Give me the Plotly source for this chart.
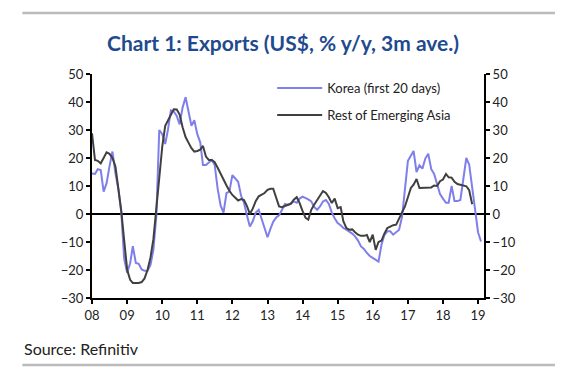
import pandas as pd
import plotly.graph_objects as go

# ---------------- data (monthly, % y/y, 3m ave.) ----------------
start_month = "2008-01-01"

korea = [
    14.5, 14.3, 16.0, 15.7, 8.0, 11.0, 17.0, 22.3, 14.5, 9.0, 0.5, -16.0,      # 2008
    -21.0, -17.6, -11.5, -17.5, -17.8, -19.8, -20.3, -20.3, -18.2, -12.8, -0.5, 30.0,  # 2009
    28.5, 25.0, 30.0, 37.0, 36.6, 35.0, 32.0, 38.0, 41.7, 36.0, 31.5, 33.5,     # 2010
    28.5, 25.5, 17.5, 17.5, 18.5, 19.3, 17.5, 9.0, 3.0, 0.5, 7.5, 8.0,          # 2011
    13.9, 12.5, 11.5, 6.5, 4.0, -0.5, -4.5, -2.5, 0.5, 1.5, -2.0, -5.0,         # 2012
    -8.3, -5.2, -2.8, -1.2, -0.5, 1.5, 3.6, 3.2, 3.8, 4.5, 4.0, 5.5,            # 2013
    6.2, 5.8, 5.2, 4.5, 2.5, 1.5, 2.7, 4.5, 5.0, 3.6, 0.5, -1.5,                # 2014
    -3.2, -4.0, -5.0, -5.6, -6.2, -7.0, -8.0, -9.5, -11.6, -12.5, -13.9, -15.0, # 2015
    -15.7, -16.3, -17.0, -11.0, -7.5, -6.2, -6.2, -7.4, -6.5, -5.6, -1.0, 8.0,  # 2016
    19.0, 20.8, 22.5, 15.0, 17.4, 16.2, 19.8, 21.5, 16.0, 14.3, 10.7, 7.1,      # 2017
    5.5, 4.0, 4.0, 10.0, 4.6, 4.6, 5.0, 13.0, 20.0, 17.6, 9.5, 0.0,             # 2018
    -6.5, -9.8,                                                                # 2019
]

rest_em_asia = [
    28.8, 19.3, 19.0, 18.1, 20.0, 22.0, 21.5, 20.0, 17.0, 10.0, 1.0, -9.5,      # 2008
    -19.9, -23.5, -24.6, -24.6, -24.6, -24.3, -23.0, -20.0, -15.5, -9.0, 2.0, 13.5,  # 2009
    24.0, 31.5, 33.5, 35.5, 37.4, 37.3, 35.5, 31.0, 27.5, 25.5, 23.5, 22.3,     # 2010
    22.5, 23.0, 24.3, 20.5, 19.3, 19.3, 18.5, 16.5, 14.3, 12.0, 10.2, 8.3,      # 2011
    6.8, 5.8, 4.8, 5.3, 5.0, 2.8, 0.0, 2.0, 4.7, 6.3, 7.0, 7.5,                 # 2012
    8.6, 9.0, 9.0, 5.5, 2.7, 2.4, 2.9, 3.3, 3.6, 5.1, 6.0, 3.9,                 # 2013
    1.0, -1.4, -2.0, 1.5, 3.3, 5.1, 6.9, 8.2, 7.5, 6.0, 3.9, 5.5,               # 2014
    2.1, 2.5, -2.6, -5.0, -5.6, -5.5, -6.5, -7.4, -7.8, -7.8, -7.5, -10.0,      # 2015
    -7.4, -12.8, -10.0, -9.5, -7.0, -5.0, -4.5, -4.0, -3.8, -1.5, 1.0, 2.7,     # 2016
    6.0, 9.3, 10.5, 12.5, 9.3, 9.3, 9.3, 9.5, 9.5, 10.2, 10.0, 11.7,           # 2017
    12.3, 14.3, 13.1, 13.0, 11.5, 10.7, 10.4, 10.2, 9.9, 8.5, 3.5,              # 2018
]

tick_dates = [f"{y}-01-01" for y in range(2008, 2020)]
tick_labels = ["08", "09", "10", "11", "12", "13", "14", "15", "16", "17", "18", "19"]
y_ticks = [-30, -20, -10, 0, 10, 20, 30, 40, 50]

korea_dates = pd.date_range(start_month, periods=len(korea), freq="MS")
rest_dates = pd.date_range(start_month, periods=len(rest_em_asia), freq="MS")

KOREA_COLOR = "#7f7fec"
REST_COLOR = "#404040"
FONT = "Lato"
TEXT_COLOR = "#222222"

fig = go.Figure()
fig.add_trace(go.Scatter(
    x=korea_dates, y=korea, mode="lines", name="Korea (first 20 days)",
    line=dict(color=KOREA_COLOR, width=2), legend="legend",
))
fig.add_trace(go.Scatter(
    x=rest_dates, y=rest_em_asia, mode="lines", name="Rest of Emerging Asia",
    line=dict(color=REST_COLOR, width=2), legend="legend2",
))
# invisible trace to activate the right-hand axis
fig.add_trace(go.Scatter(
    x=korea_dates, y=korea, mode="lines", yaxis="y2", showlegend=False,
    line=dict(color="rgba(0,0,0,0)", width=0), hoverinfo="skip",
))

axis_common = dict(
    range=[-30, 50], tickvals=y_ticks, showgrid=False,
    showline=True, linecolor="black", linewidth=2,
    ticks="outside", ticklen=4, tickwidth=1.5, tickcolor="black",
    tickfont=dict(family=FONT, size=13, color=TEXT_COLOR),
)

LEG_X = (272 - 91.7) / 392.3

fig.update_layout(
    width=570, height=370,
    margin=dict(l=92, r=86, t=74, b=72),
    paper_bgcolor="white", plot_bgcolor="white",
    font=dict(family=FONT, color=TEXT_COLOR),
    xaxis=dict(
        range=["2008-01-01", "2019-03-04"],
        tickvals=tick_dates, ticktext=tick_labels,
        showgrid=False, showline=True, linecolor="black", linewidth=2,
        ticks="outside", ticklen=4, tickwidth=1.5, tickcolor="black",
        tickfont=dict(family=FONT, size=13, color=TEXT_COLOR),
        zeroline=False,
    ),
    yaxis=dict(**axis_common, zeroline=True, zerolinecolor="black", zerolinewidth=2),
    yaxis2=dict(**axis_common, overlaying="y", side="right", zeroline=False),
    legend=dict(
        x=LEG_X, y=0.9376, xanchor="left", yanchor="middle",
        bgcolor="rgba(0,0,0,0)", font=dict(family=FONT, size=13, color=TEXT_COLOR),
        itemwidth=45,
    ),
    legend2=dict(
        x=LEG_X, y=0.817, xanchor="left", yanchor="middle",
        bgcolor="rgba(0,0,0,0)", font=dict(family=FONT, size=13, color=TEXT_COLOR),
        itemwidth=45,
    ),
    showlegend=True,
)

# title, source, and separator rules
fig.add_annotation(
    text="<b>Chart 1: Exports (US$, % y/y, 3m ave.)</b>",
    xref="paper", yref="paper", x=(283 - 91.7) / 392.3, y=(298.3 - 42) / 224.3,
    xanchor="center", yanchor="middle", showarrow=False,
    font=dict(family=FONT, size=21, color="#1f4a8f"),
)
fig.add_annotation(
    text="Source: Refinitiv",
    xref="paper", yref="paper", x=(22 - 91.7) / 392.3, y=(298.3 - 349) / 224.3,
    xanchor="left", yanchor="middle", showarrow=False,
    font=dict(family=FONT, size=16, color=TEXT_COLOR),
)
for ypx in (13, 365.5):
    fig.add_shape(
        type="line", xref="paper", yref="paper",
        x0=(22 - 91.7) / 392.3, x1=(555 - 91.7) / 392.3,
        y0=(298.3 - ypx) / 224.3, y1=(298.3 - ypx) / 224.3,
        line=dict(color="#bbbbbb", width=2.5),
    )

fig.write_html(
    "out.html",
    config={"displayModeBar": False},
    post_script="document.body.style.margin='0px';document.body.style.overflow='hidden';",
)
